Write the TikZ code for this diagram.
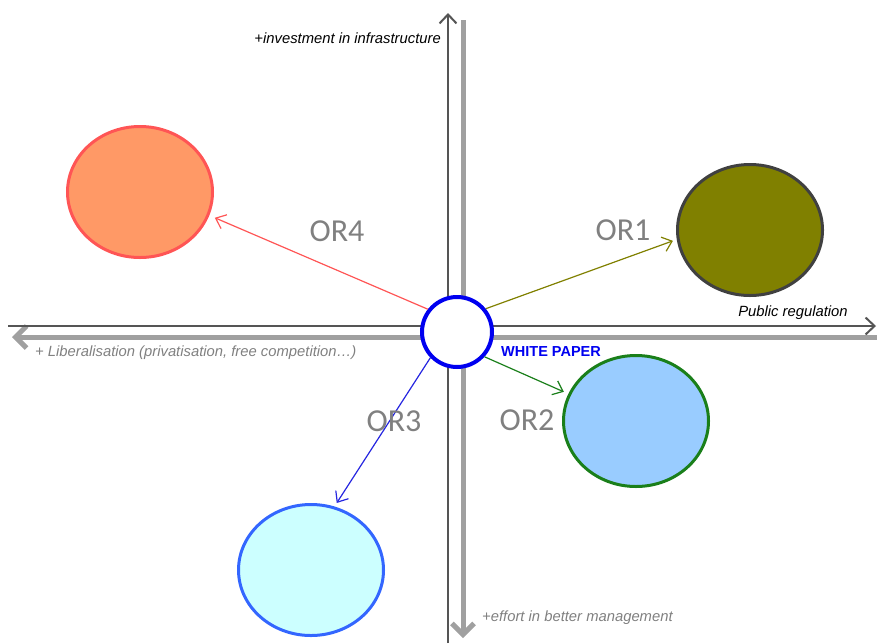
\documentclass[tikz,border=0pt]{standalone}
\usepackage{fontspec}
\setmainfont{Liberation Sans}
\newfontfamily\calibri{Carlito}
\usetikzlibrary{arrows.meta,shapes.geometric}

\definecolor{axisdark}{HTML}{555555}
\definecolor{axisgray}{HTML}{A0A0A0}
\definecolor{labelgray}{HTML}{808080}
\definecolor{wpblue}{HTML}{0000F0}
\definecolor{linkblue}{HTML}{2525E0}
\definecolor{orfour}{HTML}{FF9966}
\definecolor{orfourline}{HTML}{FF5555}
\definecolor{orone}{HTML}{808000}
\definecolor{oroneline}{HTML}{404040}
\definecolor{ortwo}{HTML}{99CCFF}
\definecolor{ortwoline}{HTML}{1A7F1A}
\definecolor{orthree}{HTML}{CCFFFF}
\definecolor{orthreeline}{HTML}{3366FF}

\begin{document}
\begin{tikzpicture}[x=1pt,y=-1pt,
    blob/.style={ellipse,draw,line width=3pt,minimum width=145pt,minimum height=131pt,inner sep=0pt},
    orlabel/.style={font=\calibri\fontsize{32}{32}\selectfont,text=labelgray,inner sep=0pt},
    axlabel/.style={font=\itshape\fontsize{14.8}{16}\selectfont,inner sep=0pt},
    thinaxis/.style={draw=axisdark,line width=2pt,-{Straight Barb[length=9pt,width=17pt]}},
    thickaxis/.style={draw=axisgray,line width=5pt,-{Straight Barb[length=11pt,width=22pt]}},
    link/.style={line width=1.2pt,-{Straight Barb[length=9pt,width=15pt]}}]
  \useasboundingbox (0,0) rectangle (877,643);

  % axes
  \coordinate (vbot) at (448,643);
  \coordinate (vtop) at (448,13);
  \coordinate (gtop) at (463,20);
  \coordinate (gbot) at (463,638);
  \coordinate (hleft) at (8,326);
  \coordinate (hright) at (876,326);
  \coordinate (gright) at (877,337);
  \coordinate (gleft) at (12,337);
  \draw[thickaxis] (gtop) -- (gbot);
  \draw[thickaxis] (gright) -- (gleft);
  \draw[thinaxis] (vbot) -- (vtop);
  \draw[thinaxis] (hleft) -- (hright);

  \node[axlabel,anchor=east] (infra) at (441,38) {+investment in infrastructure};
  \node[axlabel] (pubreg) at (793,313) {Public regulation};
  \node[axlabel,anchor=west,text=labelgray] (liberal) at (35,353) {+ Liberalisation (privatisation, free competition…)};
  \node[axlabel,anchor=west,text=labelgray] (effort) at (482,618) {+effort in better management};

  % white paper and the four options
  \node[circle,draw=wpblue,fill=white,line width=4pt,minimum size=70pt,inner sep=0pt] (wp) at (457,332) {};
  \node[font=\bfseries\fontsize{14.5}{16}\selectfont,text=wpblue,anchor=west,inner sep=0pt] (wplabel) at (501,352) {WHITE PAPER};

  \node[blob,fill=orfour,draw=orfourline] (or4) at (140,192) {};
  \node[blob,fill=orone,draw=oroneline] (or1) at (750,230) {};
  \node[blob,fill=ortwo,draw=ortwoline] (or2) at (636,421) {};
  \node[blob,fill=orthree,draw=orthreeline] (or3) at (311,570) {};

  \draw[link,orfourline] (wp.142) -- ([shift={(-19:6pt)}]or4.-19);
  \draw[link,orone] (wp.39) -- ([shift={(188:4pt)}]or1.188);
  \draw[link,ortwoline] (wp.-42) -- ([shift={(158:5pt)}]or2.158);
  \draw[link,linkblue] (wp.224) -- ([shift={(69:4pt)}]or3.69);

  \node[orlabel] (lab4) at (337,231) {OR4};
  \node[orlabel] (lab1) at (623,230) {OR1};
  \node[orlabel] (lab2) at (527,420) {OR2};
  \node[orlabel] (lab3) at (394,421) {OR3};
\end{tikzpicture}
\end{document}
